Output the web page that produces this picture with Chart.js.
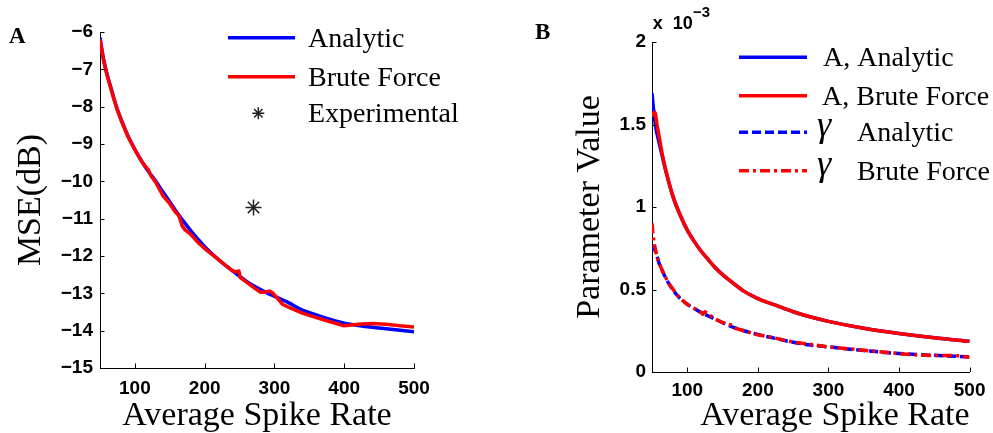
<!DOCTYPE html>
<html>
<head>
<meta charset="utf-8">
<script src="https://cdn.jsdelivr.net/npm/chart.js@4.4.1/dist/chart.umd.min.js"></script>
<style>
  html, body { margin: 0; padding: 0; background: #fff; width: 993px; height: 433px; overflow: hidden; }
  canvas { position: absolute; top: 0; }
  #mseChart { left: 0; }
  #paramChart { left: 496px; }
</style>
</head>
<body>
<canvas id="mseChart" width="496" height="433"></canvas>
<canvas id="paramChart" width="497" height="433"></canvas>
<script>
// ---------- Panel A: MSE (dB) versus average spike rate ----------
const mseRateAnalytic = [50, 55, 60, 65, 70, 75, 80, 90, 100, 110, 120, 130, 140, 150, 160, 170, 180, 190, 200,
  220, 240, 260, 280, 300, 320, 340, 360, 380, 400, 420, 440, 460, 480, 500];
const mseAnalytic = [-6.15, -6.72, -7.12, -7.45, -7.78, -8.08, -8.33, -8.78, -9.15, -9.47, -9.75, -10.0, -10.28,
  -10.55, -10.83, -11.08, -11.32, -11.54, -11.75, -12.1, -12.4, -12.68, -12.9, -13.08, -13.25, -13.45, -13.58,
  -13.7, -13.8, -13.86, -13.91, -13.95, -13.99, -14.03];

const mseRateBrute = [50, 55, 60, 65, 70, 75, 80, 90, 100, 110, 115, 119, 123, 130, 140, 150, 158, 163, 168, 172,
  180, 190, 200, 210, 220, 230, 240, 246, 249, 251, 260, 270, 280, 286, 293, 298, 305, 312, 320, 330, 340, 360,
  380, 400, 410, 420, 440, 460, 480, 500];
const mseBrute = [-6.2, -6.75, -7.15, -7.48, -7.8, -8.1, -8.35, -8.8, -9.15, -9.48, -9.6, -9.68, -9.85, -10.03,
  -10.38, -10.6, -10.82, -10.92, -11.2, -11.3, -11.42, -11.63, -11.8, -11.95, -12.1, -12.25, -12.4, -12.42,
  -12.4, -12.58, -12.7, -12.84, -12.97, -12.97, -12.94, -13.0, -13.15, -13.3, -13.37, -13.45, -13.53, -13.65,
  -13.76, -13.87, -13.85, -13.83, -13.81, -13.83, -13.87, -13.9];

const expRate = [270];
const expMse = [-10.7];

const mseTicksX = [100, 200, 300, 400, 500];
const mseTicksY = [-15, -14, -13, -12, -11, -10, -9, -8, -7, -6];

// ---------- Panel B: fitted parameters (in units of 1e-3) ----------
const ampRateAnalytic = [50, 52, 55, 60, 65, 70, 80, 90, 100, 110, 120, 130, 140, 150, 160, 180, 200, 225, 250,
  275, 300, 350, 400, 450, 500];
const ampAnalytic = [1.69, 1.60, 1.49, 1.39, 1.30, 1.21, 1.06, 0.95, 0.86, 0.79, 0.73, 0.68, 0.63, 0.59, 0.555,
  0.49, 0.445, 0.405, 0.365, 0.333, 0.307, 0.265, 0.233, 0.207, 0.186];

const ampRateBrute = [50, 54, 57, 60, 65, 70, 80, 90, 100, 110, 120, 130, 140, 150, 160, 180, 200, 225, 250, 275,
  300, 350, 400, 450, 500];
const ampBrute = [1.55, 1.575, 1.50, 1.43, 1.31, 1.215, 1.06, 0.95, 0.86, 0.79, 0.73, 0.68, 0.63, 0.59, 0.555,
  0.49, 0.445, 0.405, 0.365, 0.333, 0.307, 0.265, 0.233, 0.207, 0.186];

const gamRateAnalytic = [50, 55, 60, 65, 70, 80, 90, 100, 110, 120, 140, 160, 180, 200, 225, 250, 275, 300, 350,
  400, 450, 500];
const gamAnalytic = [0.77, 0.73, 0.66, 0.61, 0.565, 0.495, 0.445, 0.41, 0.385, 0.36, 0.32, 0.28, 0.25, 0.227,
  0.203, 0.18, 0.163, 0.152, 0.13, 0.112, 0.101, 0.091];

const gamRateBrute = [50, 51, 53, 56, 60, 65, 72, 80, 90, 100, 110, 116, 120, 122, 125, 130, 140, 150, 157, 162,
  168, 180, 200, 220, 240, 250, 257, 270, 300, 340, 380, 400, 420, 450, 480, 500];
const gamBrute = [0.90, 0.85, 0.78, 0.72, 0.66, 0.61, 0.55, 0.50, 0.445, 0.41, 0.385, 0.37, 0.36, 0.35, 0.365,
  0.35, 0.32, 0.30, 0.29, 0.285, 0.265, 0.25, 0.225, 0.21, 0.19, 0.182, 0.177, 0.17, 0.152, 0.136, 0.12, 0.112,
  0.104, 0.10, 0.10, 0.09];

const paramTicksX = [100, 200, 300, 400, 500];
const paramTicksY = [0, 0.5, 1, 1.5, 2];

// ---------- helpers ----------
const BLUE = '#0000ff';
const RED = '#ff0000';
const INK = '#000000';
const tickFont = { family: '"Liberation Sans", Arial, sans-serif', size: 19, weight: 700 };
const titleFont = { family: '"Liberation Serif", serif', size: 34, lineHeight: 1.2 };
const legendFont = '28px "Liberation Serif"';

const toPoints = (xs, ys) => xs.map((x, i) => ({ x, y: ys[i] }));
const fixedTicks = list => scale => { scale.ticks = list.map(v => ({ value: v })); };
const minusLabel = v => (v < 0 ? '\u2212' + Math.abs(v) : String(v));

// short inward tick marks on the bottom and left axes
const inwardTicks = {
  id: 'inwardTicks',
  afterDatasetsDraw(chart, args, opts) {
    const { ctx, chartArea } = chart;
    const x = chart.scales.x, y = chart.scales.y;
    const len = opts.length || 4.5;
    ctx.save();
    ctx.strokeStyle = INK;
    ctx.lineWidth = 1;
    x.ticks.forEach(t => {
      const px = Math.round(x.getPixelForValue(t.value)) + 0.5;
      ctx.beginPath();
      ctx.moveTo(px, chartArea.bottom);
      ctx.lineTo(px, chartArea.bottom - len);
      ctx.stroke();
    });
    y.ticks.forEach(t => {
      const py = Math.round(y.getPixelForValue(t.value)) + 0.5;
      ctx.beginPath();
      ctx.moveTo(chartArea.left, py);
      ctx.lineTo(chartArea.left + len, py);
      ctx.stroke();
    });
    ctx.restore();
  }
};

function drawAsterisk(ctx, cx, cy, r, color, width) {
  ctx.save();
  ctx.strokeStyle = color;
  ctx.lineWidth = width;
  ctx.beginPath();
  for (let k = 0; k < 4; k++) {
    const a = k * Math.PI / 4;
    ctx.moveTo(cx - Math.cos(a) * r, cy - Math.sin(a) * r);
    ctx.lineTo(cx + Math.cos(a) * r, cy + Math.sin(a) * r);
  }
  ctx.stroke();
  ctx.restore();
}

// legend entries drawn from each dataset's own style
const panelLegend = {
  id: 'panelLegend',
  afterDraw(chart, args, opts) {
    const ctx = chart.ctx;
    (opts.items || []).forEach(item => {
      const ds = chart.data.datasets[item.dataset];
      ctx.save();
      if (ds.showLine === false) {
        drawAsterisk(ctx, (item.x1 + item.x2) / 2, item.y, item.markerRadius, ds.pointBorderColor, 1.5);
      } else {
        ctx.strokeStyle = ds.borderColor;
        ctx.lineWidth = ds.borderWidth;
        ctx.setLineDash(ds.borderDash || []);
        ctx.beginPath();
        ctx.moveTo(item.x1, item.y);
        ctx.lineTo(item.x2, item.y);
        ctx.stroke();
        ctx.setLineDash([]);
      }
      ctx.fillStyle = INK;
      ctx.textBaseline = 'alphabetic';
      ctx.textAlign = 'left';
      if (item.symbol) {
        ctx.font = 'italic 36px "Liberation Serif"';
        ctx.fillText(item.symbol, item.symbolX, item.y + 4);
      }
      ctx.font = legendFont;
      ctx.fillText(item.text, item.textX, item.y + 9);
      ctx.restore();
    });
  }
};

// free text: panel letters and the axis multiplier
const panelText = {
  id: 'panelText',
  afterDraw(chart, args, opts) {
    const ctx = chart.ctx;
    (opts.items || []).forEach(t => {
      ctx.save();
      ctx.font = t.font;
      ctx.fillStyle = INK;
      ctx.textBaseline = 'alphabetic';
      ctx.textAlign = t.align || 'left';
      ctx.fillText(t.text, t.x, t.y);
      ctx.restore();
    });
  }
};

function axisStyle() {
  return {
    grid: { display: true, drawOnChartArea: false, drawTicks: false },
    border: { display: true, color: INK, width: 1 }
  };
}

// ---------- Chart A ----------
new Chart(document.getElementById('mseChart'), {
  type: 'line',
  data: {
    datasets: [
      { label: 'Analytic', data: toPoints(mseRateAnalytic, mseAnalytic), borderColor: BLUE, borderWidth: 3.5,
        cubicInterpolationMode: 'monotone', order: 3 },
      { label: 'Brute Force', data: toPoints(mseRateBrute, mseBrute), borderColor: RED, borderWidth: 3.5,
        tension: 0, order: 2 },
      { label: 'Experimental', data: toPoints(expRate, expMse), showLine: false, pointStyle: 'star',
        pointRadius: 8, pointBorderColor: '#222222', pointBorderWidth: 1.5, order: 1 }
    ]
  },
  options: {
    responsive: false, animation: false, devicePixelRatio: 1,
    layout: { padding: { left: 0, top: 32, right: 82, bottom: 0 } },
    elements: { point: { radius: 0 }, line: { borderCapStyle: 'butt', borderJoinStyle: 'round' } },
    plugins: {
      legend: { display: false }, tooltip: { enabled: false },
      inwardTicks: { length: 4.5 },
      panelLegend: { items: [
        { dataset: 0, x1: 228, x2: 295, y: 37.7, textX: 308, text: 'Analytic' },
        { dataset: 1, x1: 228, x2: 295, y: 76.7, textX: 308, text: 'Brute Force' },
        { dataset: 2, x1: 228, x2: 288.6, y: 113.3, textX: 308, text: 'Experimental', markerRadius: 6 }
      ] },
      panelText: { items: [
        { text: 'A', x: 9, y: 42.7, font: 'bold 23px "Liberation Serif"' }
      ] }
    },
    scales: {
      x: Object.assign(axisStyle(), {
        type: 'linear', min: 50, max: 500,
        afterBuildTicks: fixedTicks(mseTicksX),
        afterFit: s => { s.height = 65; },
        ticks: { font: tickFont, color: INK, padding: 9, maxRotation: 0, autoSkip: false, callback: v => String(v) },
        title: { display: true, text: 'Average Spike Rate', color: INK,
          font: { family: '"Liberation Serif", serif', size: 34, lineHeight: 1.0 }, padding: { top: 0, bottom: 0 } }
      }),
      y: Object.assign(axisStyle(), {
        type: 'linear', min: -15, max: -6,
        afterBuildTicks: fixedTicks(mseTicksY),
        afterFit: s => { s.width = 100; },
        ticks: { font: tickFont, color: INK, padding: 7, autoSkip: false, callback: minusLabel },
        title: { display: true, text: 'MSE(dB)', color: INK, font: titleFont, padding: { top: 11, bottom: 0 } }
      })
    }
  },
  plugins: [inwardTicks, panelLegend, panelText]
});

// ---------- Chart B ----------
new Chart(document.getElementById('paramChart'), {
  type: 'line',
  data: {
    datasets: [
      { label: 'A, Analytic', data: toPoints(ampRateAnalytic, ampAnalytic), borderColor: BLUE, borderWidth: 3.5,
        cubicInterpolationMode: 'monotone', order: 4 },
      { label: 'A, Brute Force', data: toPoints(ampRateBrute, ampBrute), borderColor: RED, borderWidth: 3.5,
        cubicInterpolationMode: 'monotone', order: 2 },
      { label: '\u03b3 Analytic', data: toPoints(gamRateAnalytic, gamAnalytic), borderColor: BLUE, borderWidth: 3.5,
        borderDash: [9, 4], cubicInterpolationMode: 'monotone', order: 3 },
      { label: '\u03b3 Brute Force', data: toPoints(gamRateBrute, gamBrute), borderColor: RED, borderWidth: 3.5,
        borderDash: [10, 4, 3, 4], tension: 0, order: 1 }
    ]
  },
  options: {
    responsive: false, animation: false, devicePixelRatio: 1,
    layout: { padding: { left: 0, top: 42, right: 20.5, bottom: 0 } },
    elements: { point: { radius: 0 }, line: { borderCapStyle: 'butt', borderJoinStyle: 'round' } },
    plugins: {
      legend: { display: false }, tooltip: { enabled: false },
      inwardTicks: { length: 4.5 },
      panelLegend: { items: [
        { dataset: 0, x1: 243, x2: 311, y: 57.3, textX: 327, text: 'A, Analytic' },
        { dataset: 1, x1: 243, x2: 311, y: 95.7, textX: 326, text: 'A, Brute Force' },
        { dataset: 2, x1: 243, x2: 311, y: 132.3, textX: 361, text: 'Analytic', symbol: '\u03b3', symbolX: 321 },
        { dataset: 3, x1: 243, x2: 311, y: 170.7, textX: 361, text: 'Brute Force', symbol: '\u03b3', symbolX: 321 }
      ] },
      panelText: { items: [
        { text: 'B', x: 39, y: 39.3, font: 'bold 23px "Liberation Serif"' },
        { text: 'x', x: 156.7, y: 29.3, font: 'bold 18px "Liberation Sans"' },
        { text: '10', x: 196.7, y: 29.3, font: 'bold 18px "Liberation Sans"', align: 'right' },
        { text: '\u22123', x: 197, y: 16.7, font: 'bold 15px "Liberation Sans"' }
      ] }
    },
    scales: {
      x: Object.assign(axisStyle(), {
        type: 'linear', min: 50, max: 500,
        afterBuildTicks: fixedTicks(paramTicksX),
        afterFit: s => { s.height = 61; },
        ticks: { font: tickFont, color: INK, padding: 7.5, maxRotation: 0, autoSkip: false, callback: v => String(v) },
        title: { display: true, text: 'Average Spike Rate', color: INK, align: 'end',
          font: { family: '"Liberation Serif", serif', size: 34, lineHeight: 1.0 }, padding: { top: 0, bottom: 0 } }
      }),
      y: Object.assign(axisStyle(), {
        type: 'linear', min: 0, max: 2,
        afterBuildTicks: fixedTicks(paramTicksY),
        afterFit: s => { s.width = 156; },
        ticks: { font: tickFont, color: INK, padding: 6, autoSkip: false, callback: v => String(v) },
        title: { display: true, text: 'Parameter Value', color: INK, font: titleFont, padding: { top: 73.5, bottom: 0 } }
      })
    }
  },
  plugins: [inwardTicks, panelLegend, panelText]
});
</script>
</body>
</html>
